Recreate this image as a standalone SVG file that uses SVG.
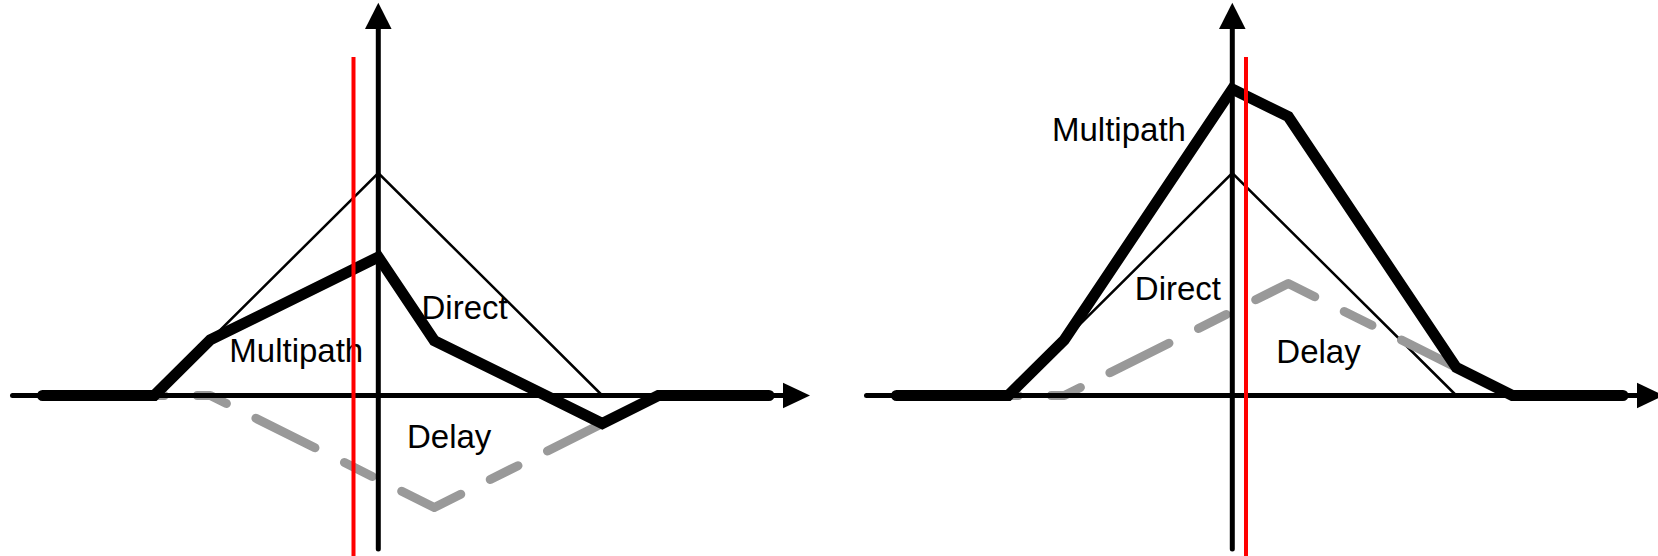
<svg xmlns="http://www.w3.org/2000/svg" width="1658" height="556" viewBox="0 0 1658 556">
  <style>
    .axis { stroke: #000; stroke-width: 5; fill: none; stroke-linecap: round; }
    .head { fill: #000; stroke: none; }
    .direct { stroke: #000; stroke-width: 2.5; fill: none; stroke-linejoin: miter; }
    .delay { stroke: #999; stroke-width: 9; fill: none; stroke-linecap: round; stroke-linejoin: round; stroke-dasharray: 66 33 31 33; stroke-dashoffset: 56; }
    .multi { stroke: #000; stroke-width: 11; fill: none; stroke-linecap: round; stroke-linejoin: miter; }
    .marker { stroke: #ff0000; stroke-width: 4; fill: none; }
    .label { font-family: "Liberation Sans", Arial, sans-serif; font-size: 33px; fill: #000; }
  </style>

  <!-- Left panel: delay path subtracts from the direct peak -->
  <g id="panel-left">
    <g id="left-curves">
      <path id="left-direct" class="direct" d="M154.3,395.5 L378.3,173 L602.3,395.5"/>
      <path id="left-delay" class="delay" d="M154.3,395.5 L210.3,395.5 L434.3,507.5 L602.3,423.5 L658.3,395.5"/>
      <line class="axis" x1="12.5" y1="395.5" x2="786" y2="395.5"/>
      <polygon class="head" points="783,382.7 810,395.5 783,408.3"/>
      <path id="left-multipath" class="multi" d="M42.5,395.5 L154.3,395.5 L210.3,339.9 L378.3,257 L434.3,340.6 L602.3,423.5 L658.3,395.5 L769,395.5"/>
      <line class="axis" x1="378.3" y1="28" x2="378.3" y2="549"/>
      <polygon class="head" points="378.3,2.7 391.6,29 365,29"/>
    </g>
    <g id="left-labels">
      <text class="label" x="229.3" y="362.3">Multipath</text>
      <text class="label" x="421.5" y="318.5">Direct</text>
      <text class="label" x="407" y="448.3">Delay</text>
    </g>
    <line id="left-sample" class="marker" x1="353.5" y1="57" x2="353.5" y2="556"/>
  </g>

  <!-- Right panel: delay path adds to the direct peak -->
  <g id="panel-right">
    <g id="right-curves">
      <path id="right-direct" class="direct" d="M1008.3,395.5 L1232.3,173 L1456.3,395.5"/>
      <path id="right-delay" class="delay" d="M1008.3,395.5 L1064.3,395.5 L1288.3,283.5 L1456.3,367.5 L1512.3,395.5"/>
      <line class="axis" x1="866.5" y1="395.5" x2="1640" y2="395.5"/>
      <polygon class="head" points="1637,382.7 1664,395.5 1637,408.3"/>
      <path id="right-multipath" class="multi" d="M896.5,395.5 L1008.3,395.5 L1064.3,339.9 L1232.3,89 L1288.3,116.6 L1456.3,367.5 L1512.3,395.5 L1623,395.5"/>
      <line class="axis" x1="1232.3" y1="28" x2="1232.3" y2="549"/>
      <polygon class="head" points="1232.3,2.7 1245.6,29 1219,29"/>
    </g>
    <g id="right-labels">
      <text class="label" x="1052" y="141.4">Multipath</text>
      <text class="label" x="1134.8" y="300.3">Direct</text>
      <text class="label" x="1276.3" y="362.5">Delay</text>
    </g>
    <line id="right-sample" class="marker" x1="1246" y1="57" x2="1246" y2="556"/>
  </g>
</svg>
